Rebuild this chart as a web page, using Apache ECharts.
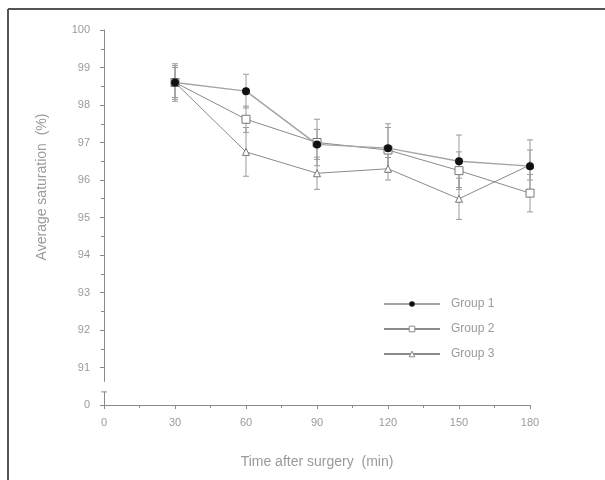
<!DOCTYPE html>
<html>
<head>
<meta charset="utf-8">
<script src="https://cdn.jsdelivr.net/npm/echarts@6/dist/echarts.min.js"></script>
<style>
  html, body { margin: 0; padding: 0; background: #fff; }
  #chart { width: 605px; height: 480px; }
</style>
</head>
<body>
<div id="chart"></div>
<script>
// ---- data ----
const times = [30, 60, 90, 120, 150, 180];
const group1 = [98.6, 98.37, 96.95, 96.85, 96.5, 96.37];
const group1Err = [0.5, 0.45, 0.4, 0.65, 0.7, 0.7];
const group2 = [98.6, 97.62, 97.0, 96.8, 96.25, 95.65];
const group2Err = [0.45, 0.35, 0.62, 0.6, 0.5, 0.5];
const group3 = [98.6, 96.75, 96.18, 96.3, 95.5, 96.4];
const group3Err = [0.4, 0.65, 0.43, 0.3, 0.55, 0.4];
const xTicks = [0, 30, 60, 90, 120, 150, 180];
const yTicks = [0, 91, 92, 93, 94, 95, 96, 97, 98, 99, 100];
const yBreakBase = 90; // plotted position of the "0" tick (broken axis)

const lineColor = '#8a8a8a';
const textColor = '#9a9a9a';

function pairs(vals) { return times.map((t, i) => [t, vals[i]]); }
function errData(vals, errs) { return times.map((t, i) => [t, vals[i] - errs[i], vals[i] + errs[i]]); }

function errSeries(vals, errs) {
  return {
    type: 'custom',
    silent: true,
    z: 1,
    data: errData(vals, errs),
    renderItem: function (params, api) {
      const x = api.value(0);
      const lo = api.coord([x, api.value(1)]);
      const hi = api.coord([x, api.value(2)]);
      const w = 3;
      return {
        type: 'group',
        children: [
          { type: 'line', shape: { x1: lo[0], y1: lo[1], x2: hi[0], y2: hi[1] }, style: { stroke: '#9a9a9a', lineWidth: 1 } },
          { type: 'line', shape: { x1: lo[0] - w, y1: lo[1], x2: lo[0] + w, y2: lo[1] }, style: { stroke: '#9a9a9a', lineWidth: 1 } },
          { type: 'line', shape: { x1: hi[0] - w, y1: hi[1], x2: hi[0] + w, y2: hi[1] }, style: { stroke: '#9a9a9a', lineWidth: 1 } }
        ]
      };
    }
  };
}

const chart = echarts.init(document.getElementById('chart'), null, { renderer: 'canvas' });

const option = {
  animation: false,
  backgroundColor: '#fff',
  grid: { left: 104, right: 75, top: 30, bottom: 75, containLabel: false },
  xAxis: {
    type: 'value',
    min: 0, max: 180, interval: 30,
    name: 'Time after surgery  (min)',
    nameLocation: 'middle',
    nameGap: 50,
    nameTextStyle: { color: textColor, fontSize: 14, fontFamily: 'Liberation Sans' },
    axisLine: { lineStyle: { color: lineColor, width: 1 } },
    axisTick: { show: true, length: 4, inside: false, lineStyle: { color: lineColor } },
    minorTick: { show: true, splitNumber: 2, length: 3, lineStyle: { color: lineColor } },
    axisLabel: { color: textColor, fontSize: 11, margin: 12, fontFamily: 'Liberation Sans',
      formatter: v => xTicks.includes(v) ? String(v) : '' },
    splitLine: { show: false }
  },
  yAxis: {
    type: 'value',
    min: yBreakBase, max: 100, interval: 1,
    axisLine: { show: true, lineStyle: { color: lineColor, width: 1 } },
    axisTick: { show: true, length: 4, lineStyle: { color: lineColor } },
    minorTick: { show: true, splitNumber: 2, length: 3, lineStyle: { color: lineColor } },
    axisLabel: { color: textColor, fontSize: 11, margin: 14, fontFamily: 'Liberation Sans',
      formatter: v => (v === yBreakBase ? String(yTicks[0]) : (yTicks.includes(v) ? String(v) : '')) },
    splitLine: { show: false }
  },
  legend: {
    orient: 'vertical',
    left: 378, top: 293,
    itemWidth: 56, itemHeight: 7, itemGap: 13,
    textStyle: { color: textColor, fontSize: 12, fontFamily: 'Liberation Sans', padding: [0, 0, 0, 6] },
    data: [
      { name: 'Group 1', itemStyle: { borderWidth: 0 } },
      { name: 'Group 2', itemStyle: { borderWidth: 1, borderColor: '#888' } },
      { name: 'Group 3', itemStyle: { borderWidth: 1, borderColor: '#888' } }
    ]
  },
  series: [
    errSeries(group1, group1Err),
    errSeries(group2, group2Err),
    errSeries(group3, group3Err),
    {
      name: 'Group 1', type: 'line', data: pairs(group1), z: 4,
      symbol: 'circle', symbolSize: 8,
      lineStyle: { color: '#a5a5a5', width: 1.5 },
      itemStyle: { color: '#111', borderColor: '#111', borderWidth: 0 }
    },
    {
      name: 'Group 2', type: 'line', data: pairs(group2), z: 3,
      symbol: 'rect', symbolSize: 8,
      lineStyle: { color: lineColor, width: 1 },
      itemStyle: { color: '#fff', borderColor: '#777', borderWidth: 1 }
    },
    {
      name: 'Group 3', type: 'line', data: pairs(group3), z: 3,
      symbol: 'triangle', symbolSize: 7,
      lineStyle: { color: lineColor, width: 1 },
      itemStyle: { color: '#fff', borderColor: '#777', borderWidth: 1 }
    }
  ]
};

chart.setOption(option);

// axis break decoration, frame and rotated y title
const xAxisPix = chart.convertToPixel({ xAxisIndex: 0 }, 0);
const gapTop = chart.convertToPixel({ yAxisIndex: 0 }, 90.62);
const gapBot = chart.convertToPixel({ yAxisIndex: 0 }, 90.35);
chart.setOption({
  graphic: [
    { type: 'rect', shape: { x: xAxisPix - 6, y: gapTop, width: 12, height: gapBot - gapTop }, style: { fill: '#fff' }, z: 100 },
    { type: 'line', shape: { x1: xAxisPix - 3, y1: gapBot, x2: xAxisPix + 3, y2: gapBot }, style: { stroke: lineColor, lineWidth: 1 }, z: 101 },
    { type: 'line', shape: { x1: 8, y1: 9, x2: 605, y2: 9 }, style: { stroke: '#555', lineWidth: 2 }, z: 101 },
    { type: 'line', shape: { x1: 8, y1: 9, x2: 8, y2: 480 }, style: { stroke: '#555', lineWidth: 2 }, z: 101 },
    { type: 'text', x: 42, y: 187, rotation: Math.PI / 2,
      style: { text: 'Average saturation  (%)', fill: textColor, fontSize: 14, fontFamily: 'Liberation Sans', align: 'center', verticalAlign: 'middle' }, z: 101 }
  ]
});
</script>
</body>
</html>
